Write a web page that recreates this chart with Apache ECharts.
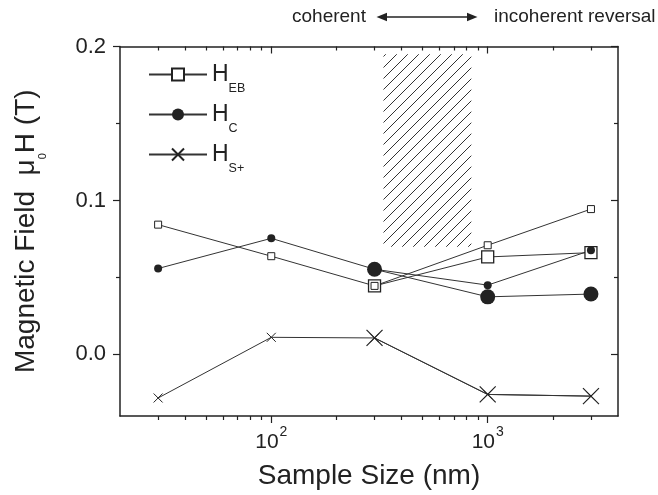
<!DOCTYPE html>
<html>
<head>
<meta charset="utf-8">
<script src="https://cdn.jsdelivr.net/npm/echarts@6/dist/echarts.min.js"></script>
<style>
  html, body { margin: 0; padding: 0; background: #fff; }
  #chart { width: 658px; height: 495px; }
</style>
</head>
<body>
<div id="chart"></div>
<script>
// sample size (nm); the large symbols only exist for the three biggest samples
const sizes = [30, 100, 300, 1000, 3000];
const sizesBig = [300, 1000, 3000];

// field values in T
const hebSmall = [0.0843, 0.0638, 0.0445, 0.0709, 0.0944];
const hebBig = [0.0445, 0.0633, 0.0661];
const hcSmall = [0.0558, 0.0754, 0.0553, 0.045, 0.0676];
const hcBig = [0.0553, 0.0374, 0.0392];
const hsSmall = [-0.0283, 0.0111, 0.0107, -0.026, -0.0271];
const hsBig = [0.0107, -0.026, -0.0271];

// ticks
const xMajor = [100, 1000];
const xMinor = [30, 40, 50, 60, 70, 80, 90, 200, 300, 400, 500, 600, 700, 800, 900, 2000, 3000];
const yMajor = [0, 0.1, 0.2];
const yMinor = [0.05, 0.15];

// hatched region between coherent and incoherent reversal
const hatchX = [330, 840];
const hatchY = [0.07, 0.195];

const INK = '#222';
const LINE = '#333';
const FONT = '"Liberation Sans", Arial, Helvetica, sans-serif';
const CROSS = 'path://M0,0L10,10M10,0L0,10';

const pairs = (xs, ys) => xs.map((x, i) => [x, ys[i]]);

function hatchPattern() {
  const c = document.createElement('canvas');
  c.width = 11;
  c.height = 11;
  const g = c.getContext('2d');
  g.strokeStyle = LINE;
  g.lineWidth = 1;
  g.beginPath();
  g.moveTo(0, 11); g.lineTo(11, 0);
  g.moveTo(-2, 2); g.lineTo(2, -2);
  g.moveTo(9, 13); g.lineTo(13, 9);
  g.stroke();
  return c;
}

function xAxisOf(position, ticks, len, inside, showLine) {
  return {
    type: 'log', logBase: 10, min: 20, max: 4000, position,
    axisLine: { show: showLine, onZero: false, lineStyle: { color: INK, width: 1.5 } },
    axisTick: { show: true, customValues: ticks, length: len, inside, lineStyle: { color: INK, width: 1.2 } },
    axisLabel: { show: false },
    splitLine: { show: false },
    minorTick: { show: false }
  };
}

function yAxisOf(position, ticks, len, inside, showLine) {
  return {
    type: 'value', min: -0.04, max: 0.2, position,
    axisLine: { show: showLine, onZero: false, lineStyle: { color: INK, width: 1.5 } },
    axisTick: { show: true, customValues: ticks, length: len, inside, lineStyle: { color: INK, width: 1.2 } },
    axisLabel: { show: false },
    splitLine: { show: false },
    minorTick: { show: false }
  };
}

const xBottom = xAxisOf('bottom', xMajor, 7, false, true);
xBottom.axisLabel = {
  show: true,
  customValues: xMajor,
  margin: 9,
  formatter: v => `{b|10}{sup|${Math.round(Math.log10(v))}}`,
  rich: {
    b: { fontSize: 21, fontFamily: FONT, color: INK, verticalAlign: 'middle' },
    sup: { fontSize: 14, fontFamily: FONT, color: INK, verticalAlign: 'middle', padding: [0, 0, 20, 1] }
  }
};
xBottom.name = 'Sample Size (nm)';
xBottom.nameLocation = 'middle';
xBottom.nameGap = 46;
xBottom.nameTextStyle = { fontSize: 28, fontFamily: FONT, color: INK };

const yLeft = yAxisOf('left', yMajor, 7, false, true);
yLeft.axisLabel = {
  show: true,
  customValues: yMajor,
  margin: 14,
  formatter: v => v.toFixed(1),
  fontSize: 22, fontFamily: FONT, color: INK
};
yLeft.name = '{a|Magnetic Field  \u03bc}{s|0}{a|H (T)}';
yLeft.nameLocation = 'middle';
yLeft.nameRotate = 90;
yLeft.nameGap = 72;
yLeft.nameTextStyle = {
  rich: {
    a: { fontSize: 28, fontFamily: FONT, color: INK, verticalAlign: 'middle' },
    s: { fontSize: 11, fontFamily: FONT, color: INK, verticalAlign: 'middle', padding: [32, 0, 0, 0] }
  }
};

const base = {
  type: 'line',
  silent: true,
  lineStyle: { color: LINE, width: 1 },
  emphasis: { disabled: true }
};

const series = [
  Object.assign({}, base, {
    name: 'EB', data: pairs(sizesBig, hebBig), symbol: 'rect', symbolSize: 12,
    itemStyle: { color: '#fff', borderColor: INK, borderWidth: 1.3 },
    markArea: {
      silent: true,
      itemStyle: { color: { image: hatchPattern(), repeat: 'repeat' }, borderWidth: 0 },
      data: [[{ coord: [hatchX[0], hatchY[1]] }, { coord: [hatchX[1], hatchY[0]] }]]
    }
  }),
  Object.assign({}, base, {
    name: 'EB', data: pairs(sizes, hebSmall), symbol: 'rect', symbolSize: 7,
    itemStyle: { color: '#fff', borderColor: INK, borderWidth: 1 }
  }),
  Object.assign({}, base, {
    name: 'C', data: pairs(sizes, hcSmall), symbol: 'circle', symbolSize: 8,
    itemStyle: { color: INK, borderWidth: 0 }
  }),
  Object.assign({}, base, {
    name: 'C', data: pairs(sizesBig, hcBig), symbol: 'circle', symbolSize: 15,
    itemStyle: { color: INK, borderWidth: 0 }
  }),
  Object.assign({}, base, {
    name: 'S+', data: pairs(sizes, hsSmall), symbol: CROSS, symbolSize: 9,
    itemStyle: { color: 'transparent', borderColor: INK, borderWidth: 1 }
  }),
  Object.assign({}, base, {
    name: 'S+', data: pairs(sizesBig, hsBig), symbol: CROSS, symbolSize: 16,
    itemStyle: { color: 'transparent', borderColor: INK, borderWidth: 1.2 }
  })
];

const chart = echarts.init(document.getElementById('chart'), null, { renderer: 'canvas' });
chart.setOption({
  backgroundColor: '#fff',
  animation: false,
  grid: { left: 120, right: 40, top: 46.5, bottom: 77 },
  legend: {
    data: ['EB', 'C', 'S+'],
    orient: 'vertical',
    left: 143,
    top: 58,
    itemWidth: 58,
    itemHeight: 15,
    itemGap: 8,
    selectedMode: false,
    formatter: n => `{h|H}{s|${n}}`,
    textStyle: {
      rich: {
        h: { fontSize: 23, fontFamily: FONT, color: INK, verticalAlign: 'middle' },
        s: { fontSize: 12.5, fontFamily: FONT, color: INK, verticalAlign: 'middle', padding: [28, 0, 0, 0] }
      }
    }
  },
  xAxis: [
    xBottom,
    xAxisOf('bottom', xMinor, 4, false, false),
    xAxisOf('top', xMajor, 7, true, true),
    xAxisOf('top', xMinor, 4, true, false)
  ],
  yAxis: [
    yLeft,
    yAxisOf('left', yMinor, 4, false, false),
    yAxisOf('right', yMajor, 7, true, true),
    yAxisOf('right', yMinor, 4, true, false)
  ],
  graphic: [
    { type: 'text', x: 292, y: 17, style: { text: 'coherent', fontSize: 19, fontFamily: FONT, fill: INK, align: 'left', verticalAlign: 'middle' } },
    { type: 'line', shape: { x1: 385, y1: 17, x2: 469, y2: 17 }, style: { stroke: INK, lineWidth: 1.3 } },
    { type: 'polygon', shape: { points: [[376.5, 17], [387, 12.8], [387, 21.2]] }, style: { fill: INK } },
    { type: 'polygon', shape: { points: [[477.5, 17], [467, 12.8], [467, 21.2]] }, style: { fill: INK } },
    { type: 'text', x: 494, y: 17, style: { text: 'incoherent reversal', fontSize: 19, fontFamily: FONT, fill: INK, align: 'left', verticalAlign: 'middle' } }
  ],
  series
});
</script>
</body>
</html>
